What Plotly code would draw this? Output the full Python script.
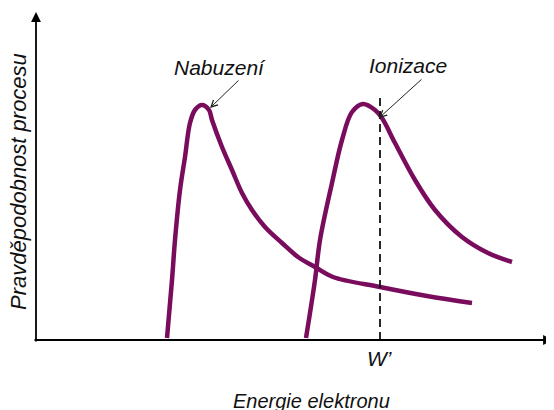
import plotly.graph_objects as go

# Data (energy E, probability P) in arbitrary schematic units
excit_E = [131, 136, 139, 144, 149, 154, 159, 166, 173, 176, 186, 196, 206, 216, 229, 246, 262, 279, 297, 344, 391, 436]
excit_P = [2, 60, 100, 150, 183, 217, 230, 235, 230, 220, 193, 170, 147, 130, 113, 97, 83, 73, 63, 53, 44, 37]
ion_E = [270, 279, 284, 296, 306, 316, 327, 339, 346, 359, 379, 399, 426, 452, 476]
ion_P = [2, 60, 100, 157, 200, 228, 236, 230, 222, 197, 160, 130, 103, 87, 78]
W_E = 344
W_top = 243
labels = {"excit": "Nabuzení", "ion": "Ionizace", "W": "W’",
          "x": "Energie elektronu", "y": "Pravděpodobnost procesu"}

curve_color = "#790C5C"
font_family = "Liberation Sans, Arial, sans-serif"

fig = go.Figure()
for E, P in ((excit_E, excit_P), (ion_E, ion_P)):
    fig.add_trace(go.Scatter(x=E, y=P, mode="lines",
                             line=dict(color=curve_color, width=4.5, shape="spline", smoothing=1.0),
                             hoverinfo="skip", showlegend=False))

# dashed W' line
fig.add_trace(go.Scatter(x=[W_E, W_E], y=[0, W_top], mode="lines",
                         line=dict(color="#111111", width=1.8, dash="8px,5px"),
                         hoverinfo="skip", showlegend=False))

ann = []
# axes with arrows
ann.append(dict(x=517, y=0, ax=-3, ay=0, xref="x", yref="y", axref="x", ayref="y",
                text="", showarrow=True, arrowhead=2, arrowwidth=1.8, arrowsize=1.1,
                arrowcolor="#000000", standoff=0))
ann.append(dict(x=0, y=328, ax=0, ay=-3, xref="x", yref="y", axref="x", ayref="y",
                text="", showarrow=True, arrowhead=2, arrowwidth=1.8, arrowsize=1.1,
                arrowcolor="#000000", standoff=0))
# pointer arrows
ann.append(dict(x=174, y=232, ax=204, ay=261, xref="x", yref="y", axref="x", ayref="y",
                text="", showarrow=True, arrowhead=5, arrowwidth=1, arrowsize=1.3,
                arrowcolor="#222222", standoff=0))
ann.append(dict(x=343, y=222, ax=387, ay=262, xref="x", yref="y", axref="x", ayref="y",
                text="", showarrow=True, arrowhead=5, arrowwidth=1, arrowsize=1.3,
                arrowcolor="#222222", standoff=0))
txtfont = dict(family=font_family, size=21, color="#111111", style="italic")
ann.append(dict(x=184, y=273, xref="x", yref="y", text=labels["excit"], showarrow=False, font=txtfont))
ann.append(dict(x=372, y=275, xref="x", yref="y", text=labels["ion"], showarrow=False, font=txtfont))
ann.append(dict(x=343, y=-18, xref="x", yref="y", text=labels["W"], showarrow=False, font=txtfont))
ann.append(dict(x=275, y=-61, xref="x", yref="y", text=labels["x"], showarrow=False,
                font=dict(family=font_family, size=20, color="#111111", style="italic")))
ann.append(dict(x=-18, y=158, xref="x", yref="y", text=labels["y"], showarrow=False, textangle=-90,
                font=dict(family=font_family, size=22, color="#111111", style="italic")))

# ranges offset by the page's 8px body margin so marks land where the reference has them
fig.update_layout(
    width=554, height=410,
    margin=dict(l=0, r=0, t=0, b=0),
    paper_bgcolor="white", plot_bgcolor="white",
    xaxis=dict(range=[-28, 526], visible=False, fixedrange=True),
    yaxis=dict(range=[-78, 332], visible=False, fixedrange=True),
    annotations=ann,
    showlegend=False,
)
fig.write_html("out.html")
